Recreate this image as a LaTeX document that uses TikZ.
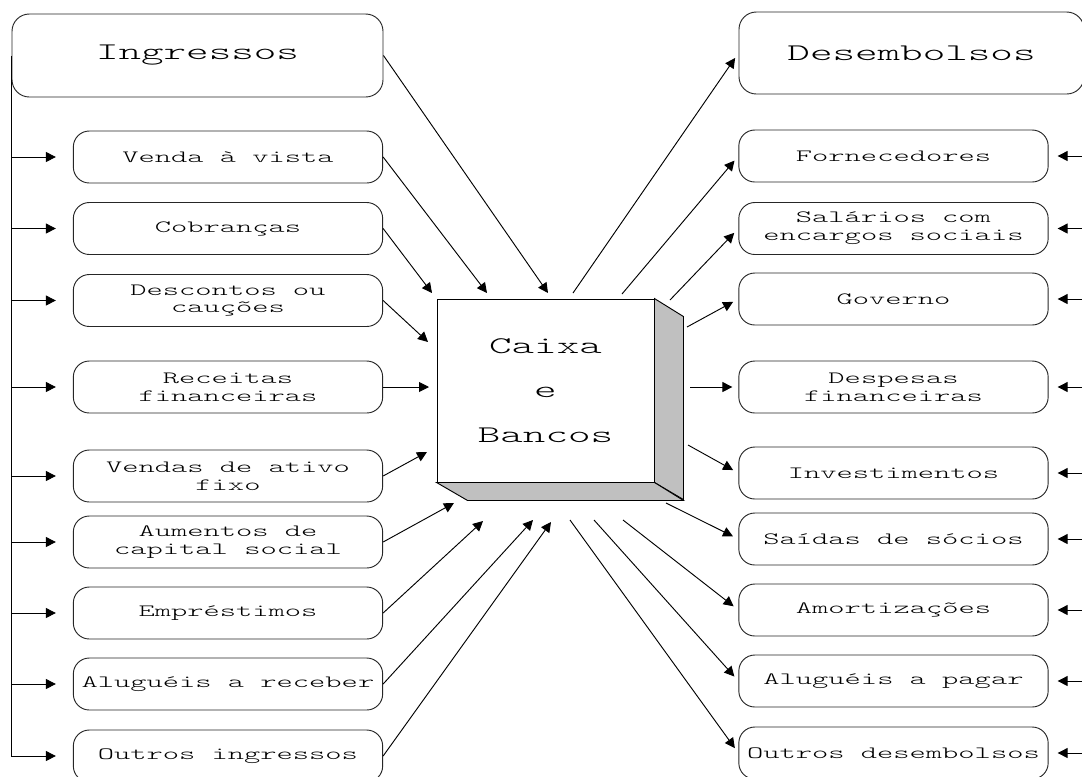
\documentclass[tikz,border=0pt]{standalone}
\usepackage{fontspec}
\usetikzlibrary{arrows.meta}
\newfontfamily\cour{lmmonolt10-regular.otf}[FakeStretch=1.8]
\newcommand\boxfont{\cour\fontsize{12.9pt}{13.3pt}\selectfont}
\newcommand\titlefont{\cour\fontsize{17.9pt}{33.4pt}\selectfont}
\definecolor{side}{HTML}{C0C0C0}
\begin{document}
\begin{tikzpicture}[x=0.75pt,y=-0.75pt,
  box/.style={draw=black!85, line width=0.7pt, rounded corners=12pt, inner sep=0pt,
    minimum width=232pt, minimum height=39pt, align=center, font=\boxfont},
  bigbox/.style={box, font=\titlefont, rounded corners=13pt},
  arr/.style={-{Triangle[length=7.5pt,width=7.5pt]}, line width=0.7pt},
  ln/.style={line width=0.7pt}]
\useasboundingbox (0,0) rectangle (1082,776);
\clip (0,0) rectangle (1082,776);
% left column
\node[bigbox, minimum width=278.25pt, minimum height=62.25pt] (ing) at (197.5,55.5) {Ingressos};
\node[box] (ven) at (228,157) {Venda à vista};
\node[box] (cob) at (228,228.5) {Cobranças};
\node[box] (dsc) at (228,300.5) {Descontos ou\\cauções};
\node[box] (rec) at (228,387) {Receitas\\financeiras};
\node[box] (vat) at (228,476) {Vendas de ativo\\fixo};
\node[box] (aum) at (228,542) {Aumentos de\\capital social};
\node[box] (emp) at (228,613) {Empréstimos};
\node[box] (alr) at (228,684) {Aluguéis a receber};
\node[box] (oin) at (228,756) {Outros ingressos};
% right column
\node[bigbox, minimum width=258.75pt, minimum height=61.5pt] (des) at (911.5,53) {Desembolsos};
\node[box] (frn) at (893.5,156) {Fornecedores};
\node[box] (sal) at (893.5,228.5) {Salários com\\encargos sociais};
\node[box] (gov) at (893.5,299) {Governo};
\node[box] (dsp) at (893.5,387) {Despesas\\financeiras};
\node[box] (inv) at (893.5,473) {Investimentos};
\node[box] (sai) at (893.5,539) {Saídas de sócios};
\node[box] (amo) at (893.5,610) {Amortizações};
\node[box] (alp) at (893.5,681) {Aluguéis a pagar};
\node[box] (ods) at (893.5,753) {Outros desembolsos};
% centre box
\node[draw, line width=0.7pt, fill=white, minimum width=162.75pt, minimum height=137.25pt,
  inner sep=0pt, align=center, font=\titlefont] (cb) at (545.5,390.5) {Caixa\\e\\Bancos};
\draw[ln, fill=side] (cb.north east) -- ++(29,18) -- ++(0,183) -- (cb.south east) -- cycle;
\draw[ln, fill=side] (cb.south west) -- ++(31,18) -- ([shift={(29,18)}]cb.south east) -- (cb.south east) -- cycle;
% trunk arrows left
\draw[arr, shorten >=12.75pt] (ing.west) |- (oin.west);
\foreach \n in {ven,cob,dsc,rec,vat,aum,emp,alr}
  \draw[arr, shorten >=12.75pt] (ing.west |- \n.west) -- (\n.west);
% trunk arrows right
\coordinate (rtr) at (1092,0);
\foreach \n in {frn,sal,gov,dsp,inv,sai,amo,alp,ods}
  \draw[arr, shorten >=6.75pt] (rtr |- \n.east) -- (\n.east);
% tips at the centre box
\coordinate (tI) at (548,293);
\coordinate (tV) at (487,293);
\coordinate (tC) at (432,293);
\coordinate (tD) at (428,342);
\coordinate (tR) at (429,387);
\coordinate (tA) at (427,452);
\coordinate (tAu) at (454,503);
\coordinate (tE) at (483,521);
\coordinate (tAl) at (533,520);
\coordinate (tO) at (551,522);
\draw[arr] (ing.east) -- (tI);
\draw[arr] (ven.east) -- (tV);
\draw[arr] (cob.east) -- (tC);
\draw[arr] (dsc.east) -- (tD);
\draw[arr] (rec.east) -- (tR);
\draw[arr] (vat.east) -- (tA);
\draw[arr] (aum.east) -- (tAu);
\draw[arr] (emp.east) -- (tE);
\draw[arr] (alr.east) -- (tAl);
\draw[arr] (oin.east) -- (tO);
% starts at the centre box
\coordinate (sD) at (573,293);
\coordinate (sF) at (622,294);
\coordinate (sS) at (670,300);
\coordinate (sG) at (687,327);
\coordinate (sDe) at (690,387);
\coordinate (sI) at (688,445);
\coordinate (sSa) at (666,503);
\coordinate (sAm) at (623,520);
\coordinate (sAl) at (594,520);
\coordinate (sO) at (570,520);
\draw[arr, shorten >=4.5pt] (sD) -- (des.west);
\draw[arr, shorten >=4.5pt] (sF) -- (frn.west);
\draw[arr, shorten >=4.5pt] (sS) -- (sal.west);
\draw[arr, shorten >=4.5pt] (sG) -- (gov.west);
\draw[arr, shorten >=4.5pt] (sDe) -- (dsp.west);
\draw[arr, shorten >=4.5pt] (sI) -- (inv.west);
\draw[arr, shorten >=4.5pt] (sSa) -- (sai.west);
\draw[arr, shorten >=4.5pt] (sAm) -- (amo.west);
\draw[arr, shorten >=4.5pt] (sAl) -- (alp.west);
\draw[arr, shorten >=4.5pt] (sO) -- (ods.west);
\end{tikzpicture}
\end{document}
